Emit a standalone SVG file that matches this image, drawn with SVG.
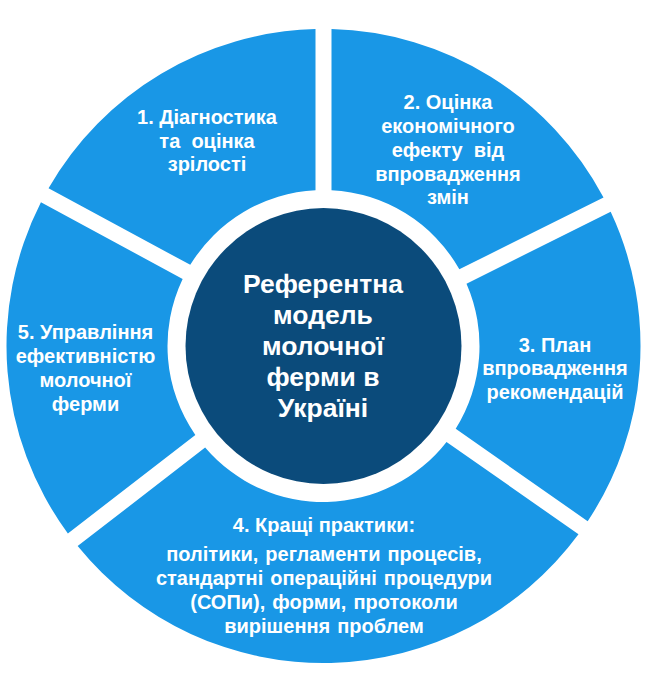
<svg xmlns="http://www.w3.org/2000/svg" width="646" height="676" viewBox="0 0 646 676">
  <style>
    .seg { fill: #1997e6; }
    .core { fill: #0b4b7b; }
    .t { font-family: "Liberation Sans", Arial, sans-serif; font-weight: bold; fill: #ffffff; text-anchor: middle; font-size: 20px; }
    .tc { font-size: 26.5px; }
  </style>
  <rect width="646" height="676" fill="#ffffff"/>
  <g id="connectors"></g>
  <g id="segment-1">
    <path class="seg" d="M48.54,188.24 A317,317 0 0 1 315.5,29.1 L315.5,190.21 A156,156 0 0 0 190.26,264.86 Z"/>
    <text class="t" xml:space="preserve"><tspan x="207" y="124">1. Діагностика</tspan><tspan x="207" y="147.5">та  оцінка</tspan><tspan x="207" y="171">зрілості</tspan></text>
  </g>
  <g id="segment-2">
    <path class="seg" d="M331.5,29.1 A317,317 0 0 1 603.53,197.44 L459.36,269.32 A156,156 0 0 0 331.5,190.21 Z"/>
    <text class="t" xml:space="preserve"><tspan x="448" y="109">2. Оцінка</tspan><tspan x="448" y="133">економічного</tspan><tspan x="448" y="157">ефекту  від</tspan><tspan x="448" y="180.5">впровадження</tspan><tspan x="448" y="204">змін</tspan></text>
  </g>
  <g id="segment-3">
    <path class="seg" d="M610.67,211.76 A317,317 0 0 1 587.68,521.22 L455.71,428.81 A156,156 0 0 0 466.5,283.64 Z"/>
    <text class="t"><tspan x="555" y="351.5">3. План</tspan><tspan x="555" y="375">впровадження</tspan><tspan x="555" y="398.5">рекомендацій</tspan></text>
  </g>
  <g id="segment-4">
    <path class="seg" d="M578.5,534.32 A317,317 0 0 1 77.65,546.12 L205.12,447.6 A156,156 0 0 0 446.53,441.91 Z"/>
    <text class="t"><tspan x="324" y="532">4. Кращі практики:</tspan></text>
    <text class="t" word-spacing="1.5"><tspan x="324" y="561">політики, регламенти процесів,</tspan><tspan x="324" y="585">стандартні операційні процедури</tspan><tspan x="324" y="609">(СОПи), форми, протоколи</tspan><tspan x="324" y="633">вирішення проблем</tspan></text>
  </g>
  <g id="segment-5">
    <path class="seg" d="M67.87,533.47 A317,317 0 0 1 40.94,202.31 L182.65,278.94 A156,156 0 0 0 195.34,434.94 Z"/>
    <text class="t"><tspan x="85.5" y="339">5. Управління</tspan><tspan x="85.5" y="363">ефективністю</tspan><tspan x="85.5" y="387">молочної</tspan><tspan x="85.5" y="410.5">ферми</tspan></text>
  </g>
  <g id="center">
    <circle class="core" cx="323.5" cy="346" r="138"/>
    <text class="t tc"><tspan x="323" y="293">Референтна</tspan><tspan x="323" y="324">модель</tspan><tspan x="323" y="355">молочної</tspan><tspan x="323" y="386">ферми в</tspan><tspan x="323" y="417">Україні</tspan></text>
  </g>
</svg>
